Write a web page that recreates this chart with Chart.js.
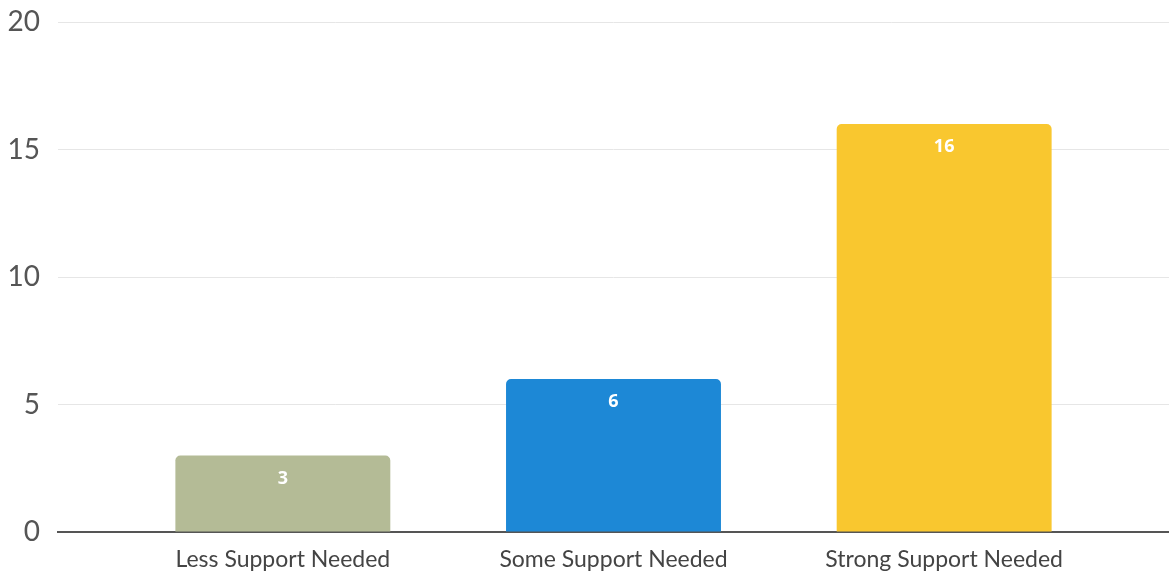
<!DOCTYPE html>
<html lang="en">
<head>
    <meta charset="UTF-8">
    <title>Support Needed</title>
    <script src="https://cdn.jsdelivr.net/npm/chart.js"></script>
    <style>
        html, body { margin: 0; padding: 0; background: #fff; }
        #supportChart { display: block; }
    </style>
</head>
<body>
<canvas id="supportChart" width="1169" height="575"></canvas>

<script>
    const categories = ['Less Support Needed', 'Some Support Needed', 'Strong Support Needed'];
    const counts = [3, 6, 16];
    const barColors = ['#b4bb96', '#1d88d6', '#f9c72f'];
    const yTicks = [0, 5, 10, 15, 20];

    // small inline plugin: white count on top of each bar
    const valueLabels = {
        id: 'valueLabels',
        afterDatasetsDraw(chart) {
            const ctx = chart.ctx;
            const meta = chart.getDatasetMeta(0);
            ctx.save();
            ctx.fillStyle = '#ffffff';
            ctx.font = 'bold 18px "Open Sans", sans-serif';
            ctx.textAlign = 'center';
            ctx.textBaseline = 'middle';
            meta.data.forEach((bar, i) => {
                ctx.fillText(String(counts[i]), bar.x, bar.y + 23);
            });
            ctx.restore();
        }
    };

    new Chart(document.getElementById('supportChart'), {
        type: 'bar',
        data: {
            datasets: [{
                data: counts.map((v, i) => ({ x: i, y: v })),
                backgroundColor: barColors,
                borderRadius: { topLeft: 5, topRight: 5 },
                borderSkipped: 'bottom',
                barPercentage: 0.65,
                categoryPercentage: 1
            }]
        },
        options: {
            responsive: false,
            animation: false,
            layout: { padding: { top: 22, right: 0, left: 0, bottom: 0 } },
            plugins: {
                legend: { display: false },
                tooltip: { enabled: false }
            },
            scales: {
                x: {
                    type: 'linear',
                    offset: false,
                    min: -0.68,
                    max: categories.length - 1 + 0.68,
                    afterFit: scale => { scale.height = 43; },
                    grid: { display: false },
                    border: { display: true, color: '#555555', width: 2 },
                    ticks: {
                        stepSize: 1,
                        includeBounds: false,
                        autoSkip: false,
                        maxRotation: 0,
                        padding: 6,
                        color: '#444444',
                        font: { family: 'Lato', size: 23 },
                        callback: v => Number.isInteger(v) ? categories[v] : null
                    }
                },
                y: {
                    min: 0,
                    max: 20,
                    afterFit: scale => {
                        scale.width = 58;
                        scale.paddingTop = 0;
                        scale.paddingBottom = 0;
                    },
                    afterBuildTicks: scale => { scale.ticks = yTicks.map(v => ({ value: v })); },
                    border: { display: false },
                    grid: { color: '#e6e6e6', lineWidth: 1, drawTicks: false },
                    ticks: {
                        padding: 18,
                        color: '#555555',
                        font: { family: 'Lato', size: 28 }
                    }
                }
            }
        },
        plugins: [valueLabels]
    });
</script>
</body>
</html>
